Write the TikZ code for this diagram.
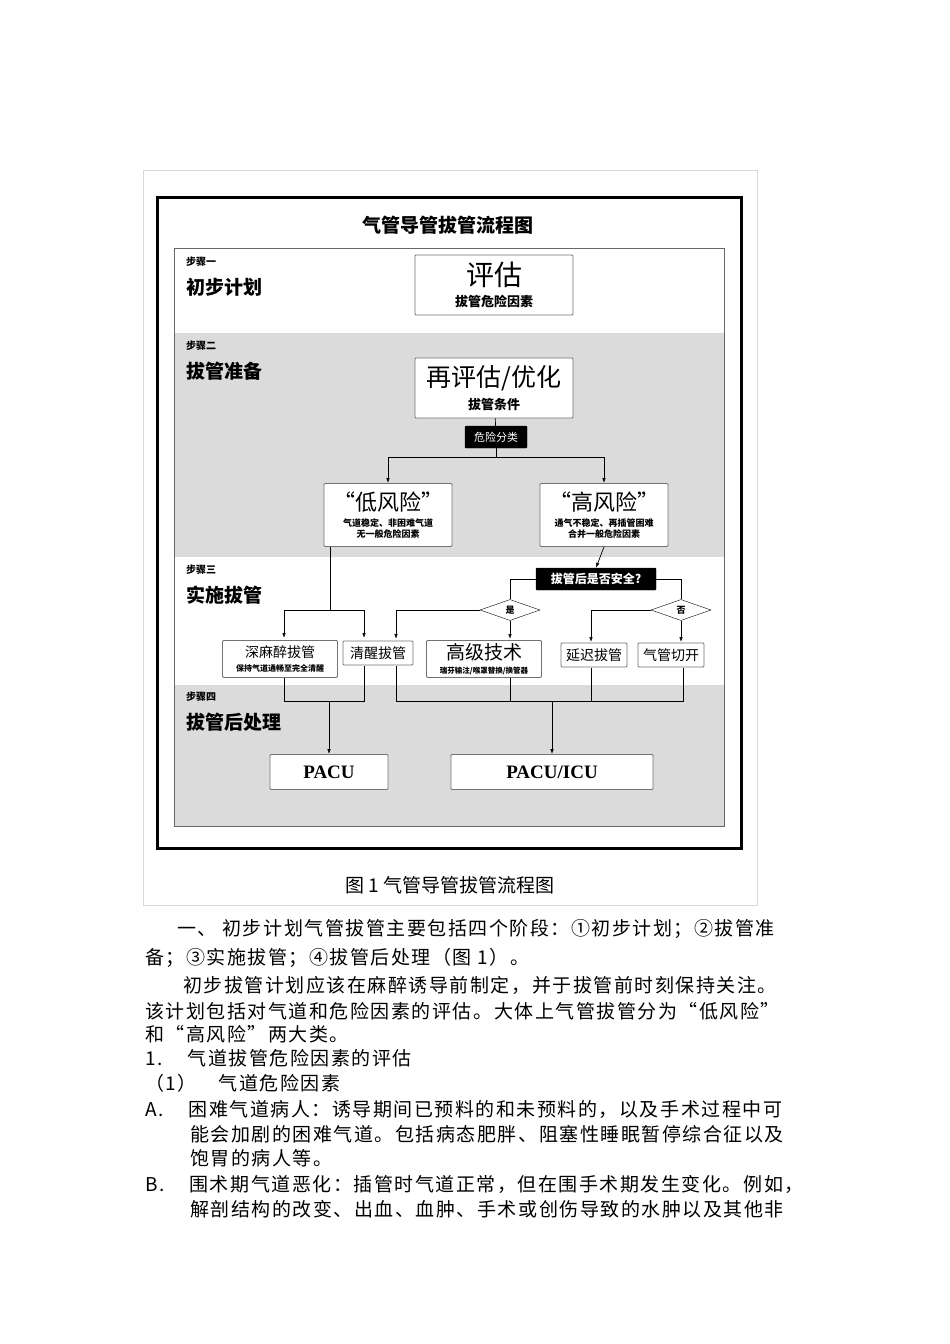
\documentclass[tikz,border=0pt]{standalone}
\usepackage{fontspec}
\usetikzlibrary{shapes.geometric,arrows.meta}
\setmainfont{Noto Sans CJK SC}
\newfontfamily\bodyfont[LetterSpace=8]{Noto Sans CJK SC}
\newfontfamily\serifen{Liberation Serif}
\tikzset{
 box/.style={draw=black!55,fill=white,rounded corners=1pt,align=center,inner sep=1pt,line width=0.8pt},
 dark/.style={draw=black,fill=black,text=white,rounded corners=1pt,inner sep=1pt},
 dia/.style={diamond,draw=black,fill=white,aspect=2.8,inner sep=0pt,minimum width=60pt,minimum height=21pt},
 arr/.style={-{Latex[length=5pt,width=3.5pt]},line width=0.7pt},
 ln/.style={line width=0.7pt},
 body/.style={anchor=west,inner sep=0pt,font=\bodyfont\fontsize{19}{20}\selectfont},
}
\begin{document}
\begin{tikzpicture}[x=1pt,y=-1pt]
\useasboundingbox (0,0) rectangle (950,1344);
\fill[white] (0,0) rectangle (950,1344);
\draw[black!15,line width=0.8pt] (143,170) rectangle (757,905);
\draw[line width=3pt] (157,197) rectangle (741,848);
\fill[white] (174,248) rectangle (724,333);
\fill[black!14] (174,333) rectangle (724,557);
\fill[white] (174,557) rectangle (724,685);
\fill[black!14] (174,685) rectangle (724,826);
\draw[black!60,line width=1pt] (174,248) rectangle (724,826);
\node[font=\bfseries\fontsize{19}{20}\selectfont] (title) at (448,225) {气管导管拔管流程图};
% step labels
\foreach \y/\a/\b in {262/步骤一/初步计划,346/步骤二/拔管准备,570/步骤三/实施拔管,697/步骤四/拔管后处理}{
 \node[anchor=west,inner sep=0pt,font=\bfseries\fontsize{10}{10}\selectfont] at (186,\y) {\a};
 \node[anchor=west,inner sep=0pt,font=\bfseries\fontsize{19}{20}\selectfont] at (186,\y+25) {\b};
}
\node[box,minimum width=158pt,minimum height=60pt] (eval) at (494,285) {{\fontsize{28}{30}\selectfont 评估}\\[6pt]{\bfseries\fontsize{13}{14}\selectfont 拔管危险因素}};
\node[box,minimum width=158pt,minimum height=60pt] (reeval) at (494,388) {{\fontsize{25}{28}\selectfont 再评估/优化}\\[6pt]{\bfseries\fontsize{13}{14}\selectfont 拔管条件}};
\node[dark,minimum width=62pt,minimum height=22pt,font=\fontsize{11}{12}\selectfont] (risk) at (496,437) {危险分类};
\node[box,minimum width=128pt,minimum height=63pt] (low) at (388,515) {{\fontsize{22}{24}\selectfont “低风险”}\\[4pt]{\bfseries\fontsize{9}{10}\selectfont 气道稳定、非困难气道}\\[-1pt]{\bfseries\fontsize{9}{10}\selectfont 无一般危险因素}};
\node[box,minimum width=128pt,minimum height=63pt] (high) at (604,515) {{\fontsize{22}{24}\selectfont “高风险”}\\[4pt]{\bfseries\fontsize{9}{10}\selectfont 通气不稳定、再插管困难}\\[-1pt]{\bfseries\fontsize{9}{10}\selectfont 合并一般危险因素}};
\draw[ln] (reeval) -- (risk);
\coordinate (br) at (496,457);
\draw[ln] (risk) -- (br);
\draw[arr] (br) -| (low.north);
\draw[arr] (br) -| (high.north);
\node[dark,minimum width=120pt,minimum height=22pt,font=\bfseries\fontsize{12}{12}\selectfont] (safe) at (596,579) {拔管后是否安全?};
\draw[arr] (high.south) -- (safe.north);
\node[dia,font=\bfseries\fontsize{9}{9}\selectfont] (yes) at (510,610) {是};
\node[dia,font=\bfseries\fontsize{9}{9}\selectfont] (no) at (681,610) {否};
\draw[ln] (safe.west) -| (yes.north);
\draw[ln] (safe.east) -| (no.north);
% boxes step 3
\node[box,minimum width=115pt,minimum height=37pt] (deep) at (280,659) {{\fontsize{14}{15}\selectfont 深麻醉拔管}\\[2pt]{\bfseries\fontsize{8}{9}\selectfont 保持气道通畅至完全清醒}};
\node[box,minimum width=70pt,minimum height=24pt,font=\fontsize{14}{15}\selectfont] (awake) at (378,653) {清醒拔管};
\node[box,minimum width=115pt,minimum height=37pt] (adv) at (484,659) {{\fontsize{19}{20}\selectfont 高级技术}\\[2pt]{\bfseries\fontsize{7.5}{8}\selectfont 瑞芬输注/喉罩替换/换管器}};
\node[box,minimum width=66pt,minimum height=24pt,font=\fontsize{14}{15}\selectfont] (delay) at (594,655) {延迟拔管};
\node[box,minimum width=66pt,minimum height=24pt,font=\fontsize{14}{15}\selectfont] (trach) at (671,655) {气管切开};
\coordinate (lowsplit) at (330,610);
\draw[ln] (low.south -| lowsplit) -- (lowsplit);
\draw[arr] (284,610) -- (284,638);
\draw[arr] (364,610) -- (364,638);
\draw[ln] (284,610) -- (364,610);
\draw[arr] (yes.west) -| (396,639);
\draw[arr] (yes.south) -- (510,639);
\draw[arr] (no.west) -| (591,642);
\draw[arr] (no.south) -- (681,642);
% step 4
\node[box,minimum width=118pt,minimum height=35pt,font=\serifen\bfseries\fontsize{19}{20}\selectfont] (pacu) at (329,772) {PACU};
\node[box,minimum width=202pt,minimum height=35pt,font=\serifen\bfseries\fontsize{19}{20}\selectfont] (picu) at (552,772) {PACU/ICU};
\draw[ln] (284,678) -- (284,701) -- (364,701) -- (364,666);
\draw[arr] (329,701) -- (pacu.north);
\draw[ln] (396,666) -- (396,701) -- (683,701) -- (683,668);
\draw[ln] (510,678) -- (510,701);
\draw[ln] (591,668) -- (591,701);
\draw[arr] (552,701) -- (picu.north);
\node[font=\fontsize{19}{20}\selectfont] (cap) at (450,885) {图 1 气管导管拔管流程图};
% body text
\node[body] at (177,929) {一、 初步计划气管拔管主要包括四个阶段：①初步计划；②拔管准};
\node[body] at (145,958) {备；③实施拔管；④拔管后处理（图 1）。};
\node[body] at (183,985) {初步拔管计划应该在麻醉诱导前制定，并于拔管前时刻保持关注。};
\node[body] at (145,1011) {该计划包括对气道和危险因素的评估。大体上气管拔管分为“低风险”};
\node[body] at (145,1034) {和“高风险”两大类。};
\node[body] at (145,1058) {1.\hspace{25pt}气道拔管危险因素的评估};
\node[body] at (145,1083) {（1）\hspace{22pt}气道危险因素};
\node[body] at (145,1109) {A.\hspace{25pt}困难气道病人：诱导期间已预料的和未预料的，以及手术过程中可};
\node[body] at (190,1134) {能会加剧的困难气道。包括病态肥胖、阻塞性睡眠暂停综合征以及};
\node[body] at (190,1158) {饱胃的病人等。};
\node[body] at (145,1184) {B.\hspace{25pt}围术期气道恶化：插管时气道正常，但在围手术期发生变化。例如，};
\node[body] at (190,1209) {解剖结构的改变、出血、血肿、手术或创伤导致的水肿以及其他非};
\end{tikzpicture}
\end{document}
